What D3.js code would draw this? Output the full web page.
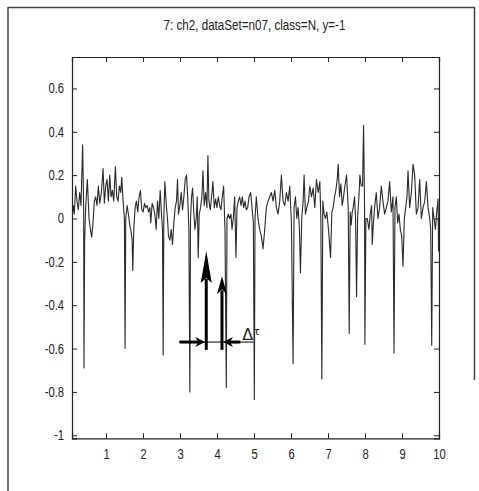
<!DOCTYPE html>
<html><head><meta charset="utf-8">
<script src="https://cdn.jsdelivr.net/npm/d3@7"></script>
<style>
html,body{margin:0;padding:0;background:#fff;}
svg{display:block;}
text{font-family:"Liberation Sans",Arial,sans-serif;fill:#222;}
</style></head>
<body>
<script>
const titleText = "7: ch2, dataSet=n07, class=N, y=-1";
const xTicks = [1,2,3,4,5,6,7,8,9,10];
const yTicks = [0.6,0.4,0.2,0,-0.2,-0.4,-0.6,-0.8,-1];
const xDomain = [0.08, 10];
const yDomain = [-1.014, 0.745];

// time (s) and amplitude
const time = [
0.079,0.115,0.142,0.179,0.215,0.251,0.287,0.323,0.368,0.395,0.404,0.422,0.449,0.495,0.540,0.585,0.612,0.648,0.684,0.720,
0.756,0.793,0.829,0.874,0.919,0.955,0.991,1.027,1.063,1.100,1.136,1.172,1.208,1.253,1.289,1.325,1.361,1.398,1.425,1.461,
1.497,1.515,1.533,1.569,1.605,1.641,1.677,1.705,1.723,1.750,1.786,1.822,1.858,1.894,1.930,1.966,2.003,2.039,2.075,2.111,
2.147,2.183,2.210,2.246,2.283,2.319,2.355,2.391,2.427,2.463,2.499,2.526,2.544,2.562,2.590,
2.634,2.661,2.688,2.725,2.761,2.797,2.833,2.869,2.905,2.932,2.959,2.996,3.032,3.068,3.104,3.140,3.176,3.212,3.239,3.266,
3.284,3.312,3.339,3.375,3.402,3.438,3.465,3.492,3.519,3.555,3.591,3.619,3.655,3.691,3.727,3.754,3.781,3.817,3.853,3.889,
3.926,3.962,3.998,4.034,4.070,4.106,4.142,4.178,4.215,4.251,4.269,4.305,4.341,4.377,4.404,4.440,4.476,4.512,4.540,4.576,
4.612,4.648,4.684,4.720,4.756,4.792,4.829,4.865,4.910,4.946,4.982,5.009,5.027,
5.063,5.108,5.153,5.198,5.244,5.289,5.334,5.379,5.424,5.469,5.515,5.560,5.605,5.650,5.695,5.740,5.785,5.831,5.876,5.921,
5.966,6.011,6.056,6.083,6.120,6.156,6.192,6.228,6.255,6.291,6.327,6.354,6.390,6.426,6.472,6.508,6.553,6.598,6.643,6.688,
6.734,6.779,6.806,6.833,6.860,6.896,6.932,6.968,7.013,7.068,7.104,7.140,7.176,7.212,7.248,7.275,7.311,7.348,7.384,7.420,
7.456,7.501,7.546,7.573,7.600,
7.627,7.654,7.681,7.717,7.745,7.772,7.799,7.835,7.862,7.898,7.934,7.961,7.988,7.997,8.024,8.061,8.106,8.142,8.178,8.196,
8.223,8.259,8.304,8.350,8.395,8.440,8.485,8.530,8.575,8.620,8.666,8.711,8.756,8.783,8.810,8.846,8.882,8.918,8.955,8.991,
9.027,9.063,9.099,9.135,9.162,9.207,9.253,9.298,9.343,9.388,9.433,9.478,9.523,9.569,9.614,9.659,9.704,9.749,9.776,9.803,
9.830,9.866,9.903,9.939,9.975,9.988,10.0
];
const amplitude = [
0.0,0.06,0.02,0.15,0.08,0.04,0.12,0.06,0.34,0.05,-0.69,-0.1,0.05,0.18,0.0,-0.06,-0.086,-0.02,0.08,0.1,
0.06,0.15,0.07,0.12,0.23,0.07,0.15,0.18,0.08,0.2,0.1,0.13,0.08,0.24,0.1,0.08,0.15,0.12,0.19,0.08,
0.0,-0.6,0.0,0.06,0.02,-0.03,-0.06,-0.1,-0.24,-0.05,0.05,0.08,0.03,0.1,0.13,0.04,0.03,0.07,0.05,0.06,
0.03,0.05,-0.02,0.07,0.05,0.02,-0.05,0.08,0.0,0.13,0.02,-0.05,-0.63,0.0,0.17,
0.05,0.0,-0.08,-0.1,-0.05,-0.12,-0.02,0.05,0.08,0.18,0.02,0.06,0.12,0.04,0.1,0.18,0.2,0.08,-0.05,-0.8,
0.0,0.1,0.14,0.02,-0.05,0.0,0.1,-0.18,0.02,0.05,0.1,0.22,0.06,0.12,0.05,0.29,0.08,0.04,0.1,0.17,
0.05,0.09,0.05,0.1,0.06,0.04,0.1,0.15,-0.05,-0.78,0.0,0.02,0.0,0.02,-0.05,0.0,0.1,-0.18,0.05,0.08,
0.1,0.06,0.1,0.05,0.08,0.04,0.05,0.1,0.12,0.05,-0.02,-0.835,0.0,
0.1,0.0,-0.05,-0.08,-0.14,-0.05,0.05,0.08,0.1,0.12,0.08,0.13,0.05,0.02,0.08,0.2,0.08,0.06,0.12,0.08,
0.15,-0.02,-0.67,0.05,0.1,0.0,0.05,-0.05,-0.25,0.0,0.08,0.2,0.02,0.05,0.08,0.15,0.1,0.14,0.05,0.18,
0.12,0.17,0.0,-0.74,0.08,0.02,0.0,0.03,-0.05,-0.18,0.03,0.05,0.1,0.13,0.18,0.25,0.1,0.16,0.06,0.1,
0.15,0.2,0.05,-0.53,0.03,
-0.03,0.03,0.05,0.1,0.0,-0.36,0.0,0.1,0.2,0.15,0.15,0.43,0.05,-0.58,0.0,0.0,-0.05,0.02,0.06,-0.12,
-0.03,0.05,0.12,0.0,0.05,0.15,0.08,0.02,0.05,0.08,0.17,0.03,0.1,-0.62,0.05,0.1,-0.02,0.02,-0.05,-0.08,
-0.22,0.0,0.05,0.1,0.22,0.05,0.12,0.25,0.2,0.02,0.05,0.18,0.0,0.05,0.08,0.17,0.05,0.0,-0.05,-0.585,
0.05,0.0,-0.05,0.03,0.09,-0.15,0.0
];

// annotation (data units)
const arrowX = [3.709, 4.134];
const arrowTip = [-0.15, -0.267];
const arrowBase = -0.606;
const deltaY = -0.57;
const deltaFrom = [2.985, 4.63];
const deltaLineEnd = 4.98;
const deltaLabelX = 4.68;

const W = 479, H = 491;
const m = {left:72, right:40, top:57, bottom:53};
const svg = d3.select("body").append("svg").attr("width",W).attr("height",H);
svg.append("rect").attr("width",W).attr("height",H).attr("fill","#fff");

// condense text horizontally (narrow glyphs like the original)
function condense(sel, k){
  sel.each(function(){
    const len = this.getComputedTextLength();
    if(len>0) d3.select(this).attr("textLength", len*k).attr("lengthAdjust","spacingAndGlyphs");
  });
}

// outer frame
const frame = svg.append("g").attr("stroke","#444").attr("stroke-width",1.5).attr("fill","none");
frame.append("line").attr("x1",8).attr("x2",475).attr("y1",7.5).attr("y2",7.5);
frame.append("line").attr("x1",8).attr("x2",8).attr("y1",7).attr("y2",H);
frame.append("line").attr("x1",474.5).attr("x2",474.5).attr("y1",7).attr("y2",380);

const x = d3.scaleLinear().domain(xDomain).range([m.left, W-m.right]);
const y = d3.scaleLinear().domain(yDomain).range([H-m.bottom+0.3, m.top]);

const title = svg.append("text").attr("x",(m.left+W-m.right)/2 - 1).attr("y",30).attr("text-anchor","middle")
  .attr("font-size",14).text(titleText);
condense(title, 0.83);

svg.append("defs").append("clipPath").attr("id","clip").append("rect")
  .attr("x",m.left).attr("y",m.top).attr("width",W-m.right-m.left).attr("height",H-m.bottom-m.top);

const pts = time.map((t,i)=>[t, amplitude[i]]);
svg.append("path").datum(pts).attr("clip-path","url(#clip)")
  .attr("d", d3.line().x(d=>x(d[0])).y(d=>y(d[1])))
  .attr("fill","none").attr("stroke","#2a2a2a").attr("stroke-width",1.1).attr("stroke-linejoin","round");

// axes (ticks inward, box)
const tl = 5;
const axB = svg.append("g").attr("transform",`translate(0,${y.range()[0]})`)
  .call(d3.axisBottom(x).tickValues(xTicks).tickSize(-tl).tickPadding(tl+6).tickFormat(d3.format("d")));
const axT = svg.append("g").attr("transform",`translate(0,${m.top})`)
  .call(d3.axisTop(x).tickValues(xTicks).tickSize(-tl).tickFormat(""));
const axL = svg.append("g").attr("transform",`translate(${m.left},0)`)
  .call(d3.axisLeft(y).tickValues(yTicks).tickSize(-tl).tickPadding(tl+3).tickFormat(d=>String(d)));
const axR = svg.append("g").attr("transform",`translate(${W-m.right},0)`)
  .call(d3.axisRight(y).tickValues(yTicks).tickSize(-tl).tickFormat(""));
[axB,axT,axL,axR].forEach(a=>{
  a.select(".domain").attr("stroke","#222").attr("stroke-width",1.2);
  a.selectAll(".tick line").attr("stroke","#222");
  a.selectAll("text").attr("font-size",14).attr("fill","#222")
   .style("font-family",'"Liberation Sans",Arial,sans-serif');
});
condense(axB.selectAll(".tick text"), 0.8);
condense(axL.selectAll(".tick text"), 0.8);

// annotation arrows
const ann = svg.append("g");
arrowX.forEach((ax,i)=>{
  const px = x(ax), tip = y(arrowTip[i]), base = y(arrowBase);
  const hl = i===0 ? 32 : 18, hw = i===0 ? 5.5 : 5;
  ann.append("line").attr("x1",px).attr("x2",px).attr("y1",base).attr("y2",tip+hl-4)
    .attr("stroke","#000").attr("stroke-width",3);
  ann.append("path").attr("d",`M${px},${tip} L${px+hw},${tip+hl} L${px},${tip+hl-5} L${px-hw},${tip+hl} Z`)
    .attr("fill","#000");
});
const hy = y(deltaY);
ann.append("line").attr("x1",x(deltaFrom[0])).attr("x2",x(deltaLineEnd)).attr("y1",hy).attr("y2",hy)
  .attr("stroke","#000").attr("stroke-width",1);
ann.append("line").attr("x1",x(deltaFrom[0])).attr("x2",x(arrowX[0])-6).attr("y1",hy).attr("y2",hy)
  .attr("stroke","#000").attr("stroke-width",3);
ann.append("line").attr("x1",x(arrowX[1])+6).attr("x2",x(deltaFrom[1])).attr("y1",hy).attr("y2",hy)
  .attr("stroke","#000").attr("stroke-width",3);
{
  const p = x(arrowX[0])-1;
  ann.append("path").attr("d",`M${p},${hy} L${p-10},${hy-5} L${p-7},${hy} L${p-10},${hy+5} Z`).attr("fill","#000");
  const q = x(arrowX[1])+1;
  ann.append("path").attr("d",`M${q},${hy} L${q+10},${hy-5} L${q+7},${hy} L${q+10},${hy+5} Z`).attr("fill","#000");
}
const lab = svg.append("text").attr("x",x(deltaLabelX)).attr("y",hy-2)
  .style("font-family",'"DejaVu Sans","Liberation Sans",sans-serif').attr("fill","#000");
lab.append("tspan").attr("font-size",16).text("Δ");
lab.append("tspan").attr("font-size",11).attr("dy",-5).text("τ");
</script>
</body></html>
